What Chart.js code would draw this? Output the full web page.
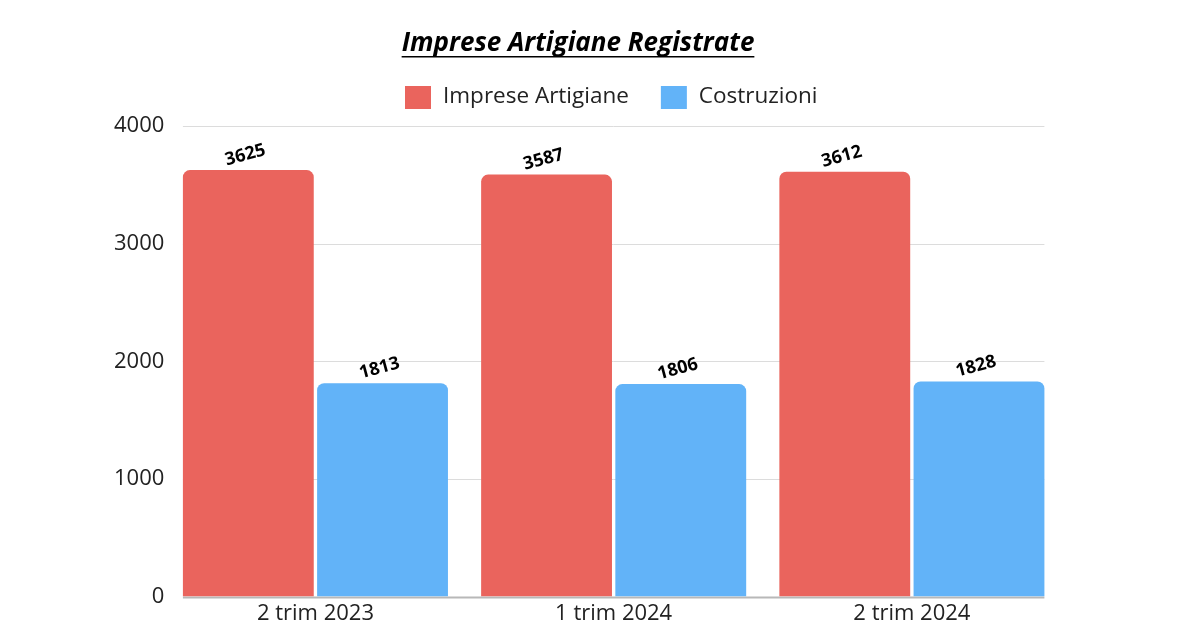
<!DOCTYPE html>
<html>
<head>
<meta charset="utf-8">
<script src="https://cdn.jsdelivr.net/npm/chart.js@4/dist/chart.umd.min.js"></script>
<style>
  html, body { margin: 0; padding: 0; background: #fff; }
  #wrap { width: 1200px; height: 635px; }
</style>
</head>
<body>
<div id="wrap"><canvas id="chart" width="1200" height="635"></canvas></div>
<script>
var chartTitle = 'Imprese Artigiane Registrate';
var categories = ['2 trim 2023', '1 trim 2024', '2 trim 2024'];
var seriesNames = ['Imprese Artigiane', 'Costruzioni'];
var impreseArtigiane = [3625, 3587, 3612];
var costruzioni = [1813, 1806, 1828];
var yTicks = [0, 1000, 2000, 3000, 4000];

var RED = '#EA645D';
var BLUE = '#62B3F8';
var FONT = "'Open Sans', sans-serif";

// title, legend, grid and value labels drawn by hand
var decorPlugin = {
    id: 'decor',
    beforeDatasetsDraw: function(chart) {
        var ctx = chart.ctx;
        var y = chart.scales.y;
        var m0 = chart.getDatasetMeta(0).data;
        var m1 = chart.getDatasetMeta(1).data;
        var left = m0[0].x - m0[0].width / 2;
        var right = m1[m1.length - 1].x + m1[m1.length - 1].width / 2;
        ctx.save();
        yTicks.forEach(function(v) {
            var py = Math.round(y.getPixelForValue(v)) + 0.5;
            ctx.beginPath();
            ctx.strokeStyle = v === 0 ? '#b8b8b8' : '#dcdcdc';
            ctx.lineWidth = v === 0 ? 2 : 1;
            ctx.moveTo(left, py);
            ctx.lineTo(right, py);
            ctx.stroke();
        });
        ctx.restore();
    },
    afterDraw: function(chart) {
        var ctx = chart.ctx;
        ctx.save();
        // title
        ctx.font = 'italic bold 26px ' + FONT;
        ctx.fillStyle = '#000';
        ctx.textAlign = 'center';
        ctx.textBaseline = 'middle';
        var tx = 578, ty = 44;
        ctx.fillText(chartTitle, tx, ty);
        var tw = ctx.measureText(chartTitle).width;
        ctx.fillRect(tx - tw / 2, ty + 12, tw, 1.5);

        // legend
        ctx.font = '22.5px ' + FONT;
        ctx.textAlign = 'left';
        var lx = 405, ly = 97;
        var colors = [RED, BLUE];
        seriesNames.forEach(function(name, i) {
            ctx.fillStyle = colors[i];
            ctx.fillRect(lx, ly - 11, 26, 23);
            ctx.fillStyle = '#222';
            ctx.fillText(name, lx + 38, ly);
            lx += 38 + ctx.measureText(name).width + 32;
        });

        // value labels
        ctx.font = 'bold 18px ' + FONT;
        ctx.fillStyle = '#000';
        ctx.textAlign = 'center';
        chart.data.datasets.forEach(function(ds, di) {
            chart.getDatasetMeta(di).data.forEach(function(bar, i) {
                ctx.save();
                ctx.translate(bar.x - 3, bar.y - 15);
                ctx.rotate(-15 * Math.PI / 180);
                ctx.fillText(String(ds.data[i]), 0, 0);
                ctx.restore();
            });
        });
        ctx.restore();
    }
};

new Chart(document.getElementById('chart'), {
    type: 'bar',
    data: {
        labels: categories,
        datasets: [
            { label: seriesNames[0], data: impreseArtigiane, backgroundColor: RED,
              borderRadius: { topLeft: 7, topRight: 7 }, borderSkipped: false,
              categoryPercentage: 0.9, barPercentage: 0.975 },
            { label: seriesNames[1], data: costruzioni, backgroundColor: BLUE,
              borderRadius: { topLeft: 7, topRight: 7 }, borderSkipped: false,
              categoryPercentage: 0.9, barPercentage: 0.975 }
        ]
    },
    options: {
        responsive: false,
        animation: false,
        layout: { padding: { top: 126, left: 112, right: 139, bottom: 4 } },
        plugins: {
            legend: { display: false },
            title: { display: false },
            tooltip: { enabled: false }
        },
        scales: {
            x: {
                grid: { display: false, drawTicks: false },
                border: { display: false },
                ticks: { color: '#222', font: { family: FONT, size: 22 }, padding: 4 }
            },
            y: {
                min: 0, max: 4000,
                grid: { display: false, drawTicks: false },
                border: { display: false },
                ticks: { stepSize: 1000, color: '#222', font: { family: FONT, size: 22 }, padding: 2,
                         callback: function(v) { return String(v); } }
            }
        }
    },
    plugins: [decorPlugin]
});
</script>
</body>
</html>
